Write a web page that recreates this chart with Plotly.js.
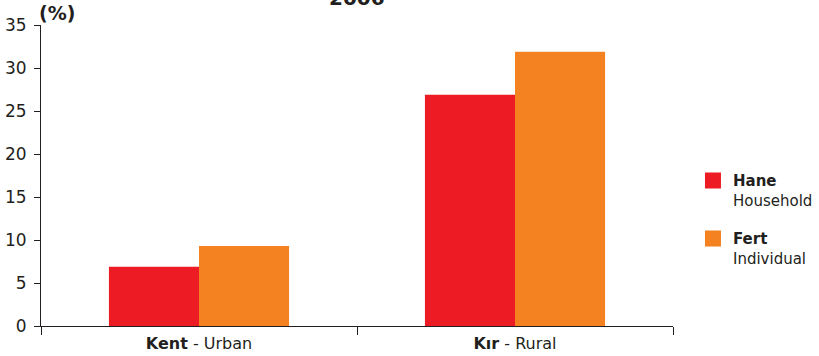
<!DOCTYPE html>
<html>
<head>
<meta charset="utf-8">
<script src="https://cdn.plot.ly/plotly-3.0.1.min.js"></script>
<style>html,body{margin:0;padding:0;background:#fff;}#chart{width:819px;height:356px;}</style>
</head>
<body>
<div id="chart"></div>
<script>
const categoriesTR = ["Kent", "Kır"];
const categoriesEN = ["Urban", "Rural"];
const householdValues = [6.9, 26.9];
const individualValues = [9.3, 31.9];
const seriesTR = ["Hane", "Fert"];
const seriesEN = ["Household", "Individual"];
const yTicks = [0, 5, 10, 15, 20, 25, 30, 35];
const titleText = "2006";
const unitText = "(%)";

const colors = ["#ED1C24", "#F48220"];
const xLabels = categoriesTR.map((c, i) => "<b>" + c + "</b> - " + categoriesEN[i]);
const font = "DejaVu Sans, Verdana, sans-serif";
const ink = "#231F20";

const data = [
  {type: "bar", x: xLabels, y: householdValues, marker: {color: colors[0]}, showlegend: false, hoverinfo: "y"},
  {type: "bar", x: xLabels, y: individualValues, marker: {color: colors[1]}, showlegend: false, hoverinfo: "y"},
  {type: "scatter", mode: "markers", x: [null], y: [null], legendgroup: "a", name: "<b>" + seriesTR[0] + "</b><br>" + seriesEN[0],
   marker: {symbol: "square", size: 18, color: colors[0]}},
  {type: "scatter", mode: "markers", x: [null], y: [null], legendgroup: "b", name: "<b>" + seriesTR[1] + "</b><br>" + seriesEN[1],
   marker: {symbol: "square", size: 18, color: colors[1]}}
];

const layout = {
  width: 819, height: 356,
  margin: {l: 41, r: 146, t: 25, b: 30, autoexpand: false},
  paper_bgcolor: "#fff", plot_bgcolor: "#fff",
  font: {family: font, size: 17, color: ink},
  barmode: "group", bargap: 0.43, bargroupgap: 0,
  xaxis: {
    type: "category", categoryorder: "array", categoryarray: xLabels,
    showline: true, linecolor: ink, linewidth: 1,
    ticks: "outside", tickson: "boundaries", ticklen: 8, tickcolor: ink,
    showgrid: false, zeroline: false, automargin: false, ticklabelstandoff: 3,
    tickfont: {family: font, size: 16, color: ink}
  },
  yaxis: {
    range: [0, 35], tickvals: yTicks, ticktext: yTicks.map(String),
    showline: true, linecolor: ink, linewidth: 1,
    ticks: "outside", ticklen: 6, tickcolor: ink,
    showgrid: false, zeroline: false, automargin: false, ticklabelstandoff: 4,
    tickfont: {family: font, size: 17, color: ink}
  },
  legend: {
    x: 1.0316, xanchor: "left", y: 0.355, yanchor: "middle", valign: "top",
    font: {family: font, size: 15, color: ink},
    tracegroupgap: 16, itemsizing: "trace"
  },
  annotations: [
    {xref: "paper", yref: "paper", x: 0.5, y: 1, xanchor: "center", yanchor: "bottom", yshift: 13,
     text: "<b>" + titleText + "</b>", showarrow: false, font: {family: font, size: 20, color: ink}},
    {xref: "paper", yref: "paper", x: 0, y: 1, xanchor: "left", yanchor: "middle", yshift: 12, xshift: -4,
     text: "<b>" + unitText + "</b>", showarrow: false, font: {family: font, size: 19, color: ink}}
  ]
};

Plotly.newPlot("chart", data, layout, {displayModeBar: false, staticPlot: true});
</script>
</body>
</html>
